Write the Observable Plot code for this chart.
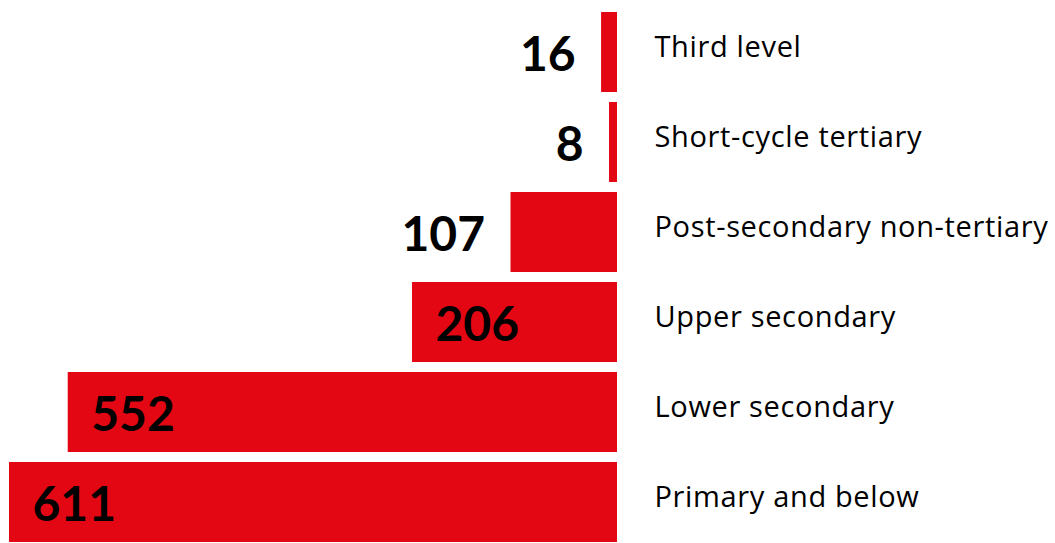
<!DOCTYPE html>
<html>
<head>
<meta charset="utf-8">
<script src="https://cdn.jsdelivr.net/npm/d3@7"></script>
<script src="https://cdn.jsdelivr.net/npm/@observablehq/plot@0.6"></script>
<style>
  html, body { margin: 0; padding: 0; background: #fff; }
  #chart svg { display: block; }
</style>
</head>
<body>
<div id="chart"></div>
<script>
const categories = ["Third level", "Short-cycle tertiary", "Post-secondary non-tertiary", "Upper secondary", "Lower secondary", "Primary and below"];
const values = [16, 8, 107, 206, 552, 611];

const data = categories.map((c, i) => ({category: c, value: values[i]}));
const inside = d => d.value > 150;

const chart = Plot.plot({
  width: 1055,
  height: 543,
  marginTop: 0, marginBottom: 0, marginLeft: 0, marginRight: 0,
  style: {fontFamily: "Lato, sans-serif", background: "#fff"},
  x: {domain: [0, 611], range: [617, 9], axis: null},
  y: {domain: categories, range: [11, 543], paddingInner: 0.11, paddingOuter: 0, axis: null},
  marks: [
    Plot.barX(data, {x: "value", y: "category", fill: "#e30613"}),
    Plot.text(data.filter(inside), {x: "value", y: "category", text: d => String(d.value), dx: 23, dy: 3, textAnchor: "start", fontSize: 48, fontWeight: "bold", fill: "#000"}),
    Plot.text(data.filter(d => !inside(d)), {x: "value", y: "category", text: d => String(d.value), dx: -26, dy: 3, textAnchor: "end", fontSize: 48, fontWeight: "bold", fill: "#000"}),
    Plot.text(data, {x: 0, y: "category", text: "category", dx: 37, dy: -5, textAnchor: "start", fontSize: 29, fontFamily: "'Open Sans', sans-serif", fill: "#000"})
  ]
});
d3.select(chart).selectAll("text").each(function () {
  const g = this.closest("g");
  const ff = g ? (g.getAttribute("font-family") || "") : "";
  if (ff.includes("Open Sans") || categories.includes(this.textContent)) {
    this.style.letterSpacing = "0.65px";
  }
});
document.getElementById("chart").appendChild(chart);
</script>
</body>
</html>
